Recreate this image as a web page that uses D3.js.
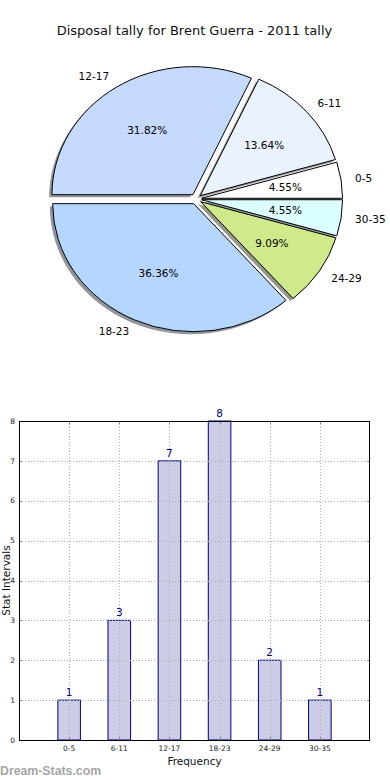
<!DOCTYPE html>
<html><head><meta charset="utf-8">
<script src="https://cdn.jsdelivr.net/npm/d3@7"></script>
<style>body{margin:0;background:#fff}svg{display:block;font-family:"DejaVu Sans",sans-serif}</style>
</head><body><svg id="c" width="390" height="780"></svg>
<script>
const categories = ["0-5","6-11","12-17","18-23","24-29","30-35"];
const counts = [1,3,7,8,2,1];
const pieColors = ["#ffffff","#eaf2ff","#c6d9fe","#b5d6ff","#d0ea8b","#dcffff"];
const yTicks = [0,1,2,3,4,5,6,7,8];
const title = "Disposal tally for Brent Guerra - 2011 tally";

const svg = d3.select("#c");
svg.append("rect").attr("width",390).attr("height",780).attr("fill","#fff");

svg.append("text").attr("x",194.5).attr("y",35).attr("text-anchor","middle")
  .attr("font-size",13).attr("fill","#111").text(title);

// ---- Pie ----
const cx = 196, cy = 199, rx = 141, ry = 128, explode = 0.04;
const total = d3.sum(counts);
const pie = d3.pie().sort(null).startAngle(Math.PI/2).endAngle(Math.PI/2 - 2*Math.PI);
const arcs = pie(counts);
const arcGen = d3.arc().innerRadius(0).outerRadius(1);
const pg = svg.append("g");
function off(a){ const m=(a.startAngle+a.endAngle)/2; return [Math.sin(m), -Math.cos(m)]; }
// shadows
arcs.forEach((a,i)=>{
  const [ux,uy]=off(a);
  const x = cx + ux*explode*rx - 0.02*rx, y = cy + uy*explode*ry + 0.02*ry;
  const c = d3.rgb(pieColors[i]);
  pg.append("path").attr("d",arcGen(a))
    .attr("transform",`translate(${x},${y}) scale(${rx},${ry})`)
    .attr("fill",d3.rgb(c.r*0.3,c.g*0.3,c.b*0.3)).attr("fill-opacity",0.55)
    .attr("stroke","none");
});
arcs.forEach((a,i)=>{
  const [ux,uy]=off(a);
  const x = cx + ux*explode*rx, y = cy + uy*explode*ry;
  pg.append("path").attr("d",arcGen(a))
    .attr("transform",`translate(${x},${y}) scale(${rx},${ry})`)
    .attr("fill",pieColors[i]).attr("stroke","#000").attr("stroke-width",1)
    .attr("vector-effect","non-scaling-stroke").attr("stroke-linejoin","round");
});
arcs.forEach((a,i)=>{
  const [ux,uy]=off(a);
  const x = cx + ux*explode*rx, y = cy + uy*explode*ry;
  pg.append("text").attr("x",x+ux*1.1*rx).attr("y",y+uy*1.1*ry).attr("dy","0.35em")
    .attr("text-anchor",ux<0?"end":"start").attr("font-size",10.5).attr("fill","#000")
    .text(categories[i]);
  pg.append("text").attr("x",x+ux*0.6*rx).attr("y",y+uy*0.6*ry).attr("dy","0.35em")
    .attr("text-anchor","middle").attr("font-size",10.5).attr("fill","#000")
    .text((counts[i]/total*100).toFixed(2)+"%");
});

// ---- Bar chart ----
const L=19, R=370, T=421, B=740;
const x = d3.scaleLinear().domain([-1,6]).range([L,R]);
const y = d3.scaleLinear().domain([0,8]).range([B,T]);
const bg = svg.append("g");
const bw = 0.45;
bg.selectAll("rect.bar").data(counts).join("rect").attr("class","bar")
  .attr("x",(d,i)=>x(i-bw/2)).attr("width",x(bw)-x(0))
  .attr("y",d=>y(d)).attr("height",d=>y(0)-y(d))
  .attr("fill","#ccccE6").attr("stroke","#000080").attr("stroke-width",1);
// grid
const grid = bg.append("g").attr("stroke","#b0b0b0").attr("stroke-width",1).attr("stroke-dasharray","1,2");
yTicks.forEach(t=>grid.append("line").attr("x1",L).attr("x2",R).attr("y1",Math.round(y(t))+0.5).attr("y2",Math.round(y(t))+0.5));
categories.forEach((c,i)=>grid.append("line").attr("x1",Math.round(x(i))+0.5).attr("x2",Math.round(x(i))+0.5).attr("y1",T).attr("y2",B));
// ticks
const tk = bg.append("g").attr("stroke","#888").attr("stroke-width",1);
yTicks.forEach(t=>{const yy=Math.round(y(t))+0.5;
  tk.append("line").attr("x1",L).attr("x2",L+3).attr("y1",yy).attr("y2",yy);
  tk.append("line").attr("x1",R-3).attr("x2",R).attr("y1",yy).attr("y2",yy);});
categories.forEach((c,i)=>{const xx=Math.round(x(i))+0.5;
  tk.append("line").attr("x1",xx).attr("x2",xx).attr("y1",B-3).attr("y2",B);
  tk.append("line").attr("x1",xx).attr("x2",xx).attr("y1",T).attr("y2",T+3);});
// frame
bg.append("rect").attr("x",L+0.5).attr("y",T+0.5).attr("width",R-L-1).attr("height",B-T)
  .attr("fill","none").attr("stroke","#000").attr("stroke-width",1);
// y labels
yTicks.forEach(t=>bg.append("text").attr("x",15).attr("y",y(t)).attr("dy","0.35em")
  .attr("text-anchor","end").attr("font-size",7.5).attr("fill","#222").text(t));
categories.forEach((c,i)=>bg.append("text").attr("x",x(i)).attr("y",751)
  .attr("text-anchor","middle").attr("font-size",7.5).attr("fill","#222").text(c));
// value labels
counts.forEach((d,i)=>bg.append("text").attr("x",x(i)).attr("y",y(d)-4)
  .attr("text-anchor","middle").attr("font-size",10.5).attr("fill","#00008b").text(d));
bg.append("text").attr("x",(L+R)/2).attr("y",765).attr("text-anchor","middle")
  .attr("font-size",10.5).attr("fill","#111").text("Frequency");
bg.append("text").attr("transform",`translate(9.5,${(T+B)/2}) rotate(-90)`).attr("text-anchor","middle")
  .attr("font-size",10.5).attr("fill","#111").text("Stat Intervals");
svg.append("text").attr("x",0).attr("y",775).attr("font-family","'Liberation Sans',Arial,sans-serif")
  .attr("font-weight","bold").attr("font-size",12.3).attr("fill","#a6a6a6").text("Dream-Stats.com");
</script></body></html>
